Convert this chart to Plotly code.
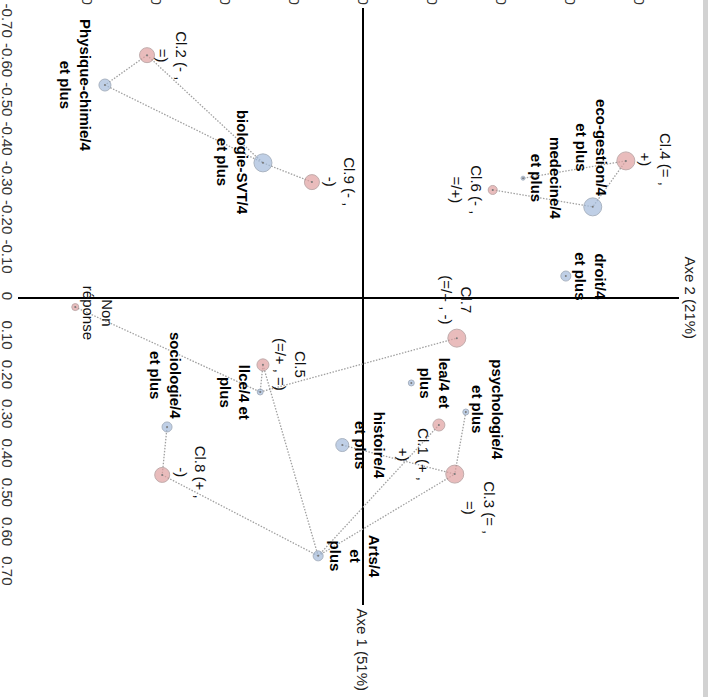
import plotly.graph_objects as go

# ---------------- data ----------------
# Classes (red bubbles): coordinates on Axe 1 and Axe 2, relative weight
class_names = ["Cl.2", "Cl.9", "Cl.4", "Cl.6", "Cl.7", "Cl.5", "Cl.1", "Cl.3", "Cl.8", "Non réponse"]
class_labels = ["Cl.2 (- ,<br>=)", "Cl.9 (- ,<br>-)", "Cl.4 (= ,<br>+)", "Cl.6 (- ,<br>=/+)",
                "Cl.7<br>(=/+ , -)", "Cl.5<br>(=/+ , =)", "Cl.1 (+ ,<br>+)", "Cl.3 (= ,<br>=)",
                "Cl.8 (+ ,<br>-)", "Non<br>réponse"]
class_axe1 = [-0.618, -0.295, -0.349, -0.275, 0.102, 0.170, 0.323, 0.448, 0.450, 0.023]
class_axe2 = [-0.313, -0.074, 0.381, 0.188, 0.136, -0.145, 0.110, 0.133, -0.291, -0.417]
class_weight = [15, 15, 18, 9, 18, 12, 12, 18, 15, 7]

# Modalities (blue bubbles)
mod_names = ["Physique-chimie", "biologie-SVT", "eco-gestion", "medecine", "droit",
             "psychologie", "lea", "histoire", "Arts", "llce", "sociologie"]
mod_labels = ["Physique-chimie/4<br>et plus", "biologie-SVT/4<br>et plus", "eco-gestion/4<br>et plus",
              "medecine/4<br>et plus", "droit/4<br>et plus", "psychologie/4<br>et plus",
              "lea/4 et<br>plus", "histoire/4<br>et plus", "Arts/4<br>et<br>plus",
              "llce/4 et<br>plus", "sociologie/4<br>et plus"]
mod_axe1 = [-0.542, -0.344, -0.232, -0.305, -0.056, 0.290, 0.216, 0.374, 0.656, 0.239, 0.328]
mod_axe2 = [-0.374, -0.145, 0.333, 0.232, 0.294, 0.149, 0.070, -0.030, -0.065, -0.149, -0.284]
mod_weight = [12, 18, 18, 4, 10, 6, 6, 13, 10, 6, 10]

# links between classes and modalities
links = [("Cl.2", "Physique-chimie"), ("Cl.2", "biologie-SVT"), ("Physique-chimie", "biologie-SVT"),
         ("biologie-SVT", "Cl.9"), ("Cl.4", "medecine"), ("Cl.4", "eco-gestion"), ("Cl.6", "eco-gestion"),
         ("Non réponse", "llce"), ("Cl.5", "llce"), ("llce", "Cl.7"), ("Cl.5", "Arts"),
         ("sociologie", "Cl.8"), ("Cl.8", "Arts"), ("Arts", "Cl.1"), ("Arts", "Cl.3"),
         ("histoire", "Cl.3"), ("psychologie", "Cl.3")]

axe1_ticks = [-0.7, -0.6, -0.5, -0.4, -0.3, -0.2, -0.1, 0, 0.1, 0.2, 0.3, 0.4, 0.5, 0.6, 0.7]
axe1_ticktext = ["-0.70", "-0.60", "-0.50", "-0.40", "-0.30", "-0.20", "-0.10", "0",
                 "0.10", "0.20", "0.30", "0.40", "0.50", "0.60", "0.70"]
axe2_ticks = [-0.4, -0.3, -0.2, -0.1, 0, 0.1, 0.2, 0.3, 0.4]
axe2_ticktext = ["-0.40", "-0.30", "-0.20", "-0.10", "0", "0.10", "0.20", "0.30", "0.40"]

# ---------------- styling (label offsets in px: right, down) ----------------
class_offsets = {"Cl.2": (25, 0), "Cl.9": (28, 0), "Cl.4": (29, -1), "Cl.6": (-27, 0),
                 "Cl.7": (0, -38), "Cl.5": (27, 0), "Cl.1": (-25, 30), "Cl.3": (25, 34),
                 "Cl.8": (28, -3), "Non réponse": (23, 6)}
mod_offsets = {"Physique-chimie": (-29, 0), "biologie-SVT": (-31, 0), "eco-gestion": (-2, -59),
               "medecine": (23, 0), "droit": (25, 0), "psychologie": (22, -2), "lea": (23, 0),
               "histoire": (28, 0), "Arts": (37, 0), "llce": (-26, 0), "sociologie": (-2, -52)}

FONT = "Liberation Sans, Arial, sans-serif"

pos = {}
for n, a1, a2 in zip(class_names, class_axe1, class_axe2):
    pos[n] = (a2, a1)
for n, a1, a2 in zip(mod_names, mod_axe1, mod_axe2):
    pos[n] = (a2, a1)

fig = go.Figure()

ex, ey = [], []
for a, b in links:
    ex += [pos[a][0], pos[b][0], None]
    ey += [pos[a][1], pos[b][1], None]
fig.add_trace(go.Scatter(x=ex, y=ey, mode="lines",
                         line=dict(color="#a0a0a0", width=1.3, dash="1.5px,1.5px"),
                         hoverinfo="skip", showlegend=False))

fig.add_trace(go.Scatter(x=class_axe2, y=class_axe1, mode="markers",
                         marker=dict(size=class_weight, color="#e0a1a1",
                                     line=dict(color="#a88a8a", width=1)),
                         showlegend=False, cliponaxis=False))
fig.add_trace(go.Scatter(x=mod_axe2, y=mod_axe1, mode="markers",
                         marker=dict(size=mod_weight, color="#a4bcdc",
                                     line=dict(color="#8694a8", width=1)),
                         showlegend=False, cliponaxis=False))
# small centre dots
fig.add_trace(go.Scatter(x=class_axe2 + mod_axe2, y=class_axe1 + mod_axe1, mode="markers",
                         marker=dict(size=2, color="#7a7a7a"), showlegend=False, hoverinfo="skip"))

annotations = []
for n, lab, a1, a2 in zip(class_names, class_labels, class_axe1, class_axe2):
    dx, dy = class_offsets[n]
    annotations.append(dict(x=a2, y=a1, xref="x", yref="y", text=lab, showarrow=False,
                            textangle=90, xanchor="center", yanchor="middle", align="center",
                            xshift=dx, yshift=-dy,
                            font=dict(family=FONT, size=15, color="#111")))
for n, lab, a1, a2 in zip(mod_names, mod_labels, mod_axe1, mod_axe2):
    dx, dy = mod_offsets[n]
    annotations.append(dict(x=a2, y=a1, xref="x", yref="y", text="<b>" + lab + "</b>",
                            showarrow=False, textangle=90, xanchor="center", yanchor="middle",
                            align="center", xshift=dx, yshift=-dy,
                            font=dict(family=FONT, size=15, color="#000")))

annotations.append(dict(x=1, y=0, xref="paper", yref="y", text="Axe 2 (21%)", showarrow=False,
                        textangle=90, xanchor="left", yanchor="middle", xshift=1,
                        font=dict(family=FONT, size=15, color="#222")))
annotations.append(dict(x=0, y=0, xref="x", yref="paper", text="Axe 1 (51%)", showarrow=False,
                        textangle=90, xanchor="center", yanchor="top", yshift=-2,
                        font=dict(family=FONT, size=15, color="#222")))

fig.update_layout(
    width=703, height=697,
    margin=dict(l=18, r=24, t=8, b=92, autoexpand=False),
    paper_bgcolor="white", plot_bgcolor="white",
    annotations=annotations,
    showlegend=False,
    xaxis=dict(range=[-0.5, 0.458], side="top", tickvals=axe2_ticks, ticktext=axe2_ticktext,
               tickangle=90, showgrid=False, zeroline=True, zerolinecolor="#000",
               zerolinewidth=1.5, showline=False, ticks="", automargin=False,
               tickfont=dict(family=FONT, size=15, color="#333")),
    yaxis=dict(range=[0.781, -0.738], tickvals=axe1_ticks, ticktext=axe1_ticktext,
               tickangle=90, showgrid=False, zeroline=True, zerolinecolor="#000",
               zerolinewidth=1.5, showline=False, ticks="", automargin=False,
               tickfont=dict(family=FONT, size=15, color="#333")),
)

fig.write_html("out.html", config={"displayModeBar": False},
               post_script="document.body.style.margin='0px';document.body.style.overflow='hidden';"
                           "document.body.style.background='#d2d2d2';")
